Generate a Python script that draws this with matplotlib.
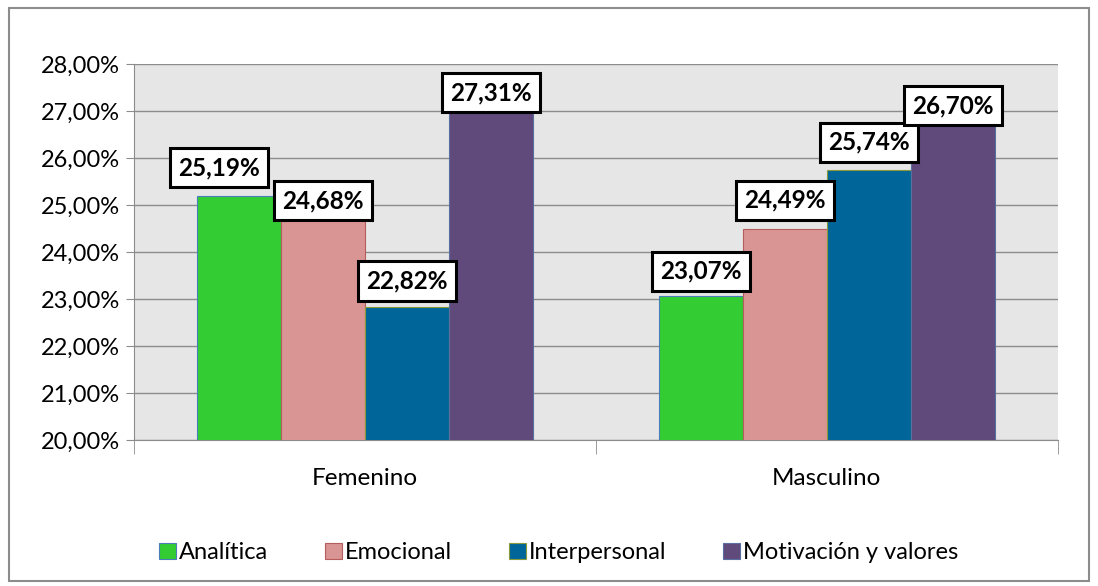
import numpy as np
import matplotlib.pyplot as plt
from matplotlib.patches import Rectangle

categories = ["Femenino", "Masculino"]
series = ["Analítica", "Emocional", "Interpersonal", "Motivación y valores"]
values = [
    [25.19, 23.07],
    [24.68, 24.49],
    [22.82, 25.74],
    [27.31, 26.70],
]
colors = ["#33cc33", "#d99594", "#006699", "#604a7b"]
edges = ["#4a7ebb", "#b65c5a", "#8a9a3b", "#5a6fa0"]
yticks = [20, 21, 22, 23, 24, 25, 26, 27, 28]

# gap (points) between bar top and label box, as Excel placed them to dodge each other
label_dx = [[-14, 0], [0, 0], [0, 0], [0, 0]]
label_dy = [[6.5, 3.5], [0, 6.5], [5, 6], [-11.5, 0]]

plt.rcParams['font.family'] = ['Lato', 'DejaVu Sans']

fig = plt.figure(figsize=(10.98, 5.86), dpi=100)
fig.patches.append(Rectangle((0.008, 0.008), 0.984, 0.978, transform=fig.transFigure,
                             fill=False, edgecolor="#8c8c8c", linewidth=1.5))
ax = fig.add_axes([0.122, 0.249, 0.8415, 0.642])
ax.set_facecolor("#e6e6e6")

fs = 17.5
pad = 0.33
x = np.arange(len(categories))
w = 0.182
for i, s in enumerate(series):
    pos = x + (i - 1.5) * w
    ax.bar(pos, values[i], w, bottom=0, color=colors[i], edgecolor=edges[i],
           linewidth=0.8, label=s, zorder=3)
    for j, v in enumerate(values[i]):
        ax.annotate(("%.2f" % v).replace(".", ",") + "%", (pos[j], v),
                    xytext=(label_dx[i][j], label_dy[i][j] + fs * pad),
                    textcoords="offset points",
                    ha="center", va="bottom", fontsize=fs, fontweight="bold",
                    bbox=dict(boxstyle="square,pad=%g" % pad, fc="white", ec="black", lw=2.2),
                    zorder=5)

ax.set_ylim(20, 28)
ax.set_xlim(-0.5, 1.5)
ax.set_yticks(yticks)
ax.set_yticklabels([("%.2f" % t).replace(".", ",") + "%" for t in yticks], fontsize=17)
ax.yaxis.grid(True, color="#8c8c8c", linewidth=1, zorder=0)
ax.set_axisbelow(True)
ax.set_xticks(x)
ax.set_xticklabels(categories, fontsize=17.5)
ax.tick_params(axis="x", length=0, pad=20)
ax.set_xticks([-0.5, 0.5, 1.5], minor=True)
ax.tick_params(axis="x", which="minor", length=10, color="#8c8c8c")
ax.tick_params(axis="y", length=6, color="#8c8c8c", pad=4)
for sp in ["top", "right"]:
    ax.spines[sp].set_visible(False)
for sp in ["left", "bottom"]:
    ax.spines[sp].set_color("#8c8c8c")

ax.legend(loc="center", bbox_to_anchor=(0.46, -0.3), ncol=4, frameon=False,
          fontsize=17, handlelength=0.7, handleheight=0.7, handletextpad=0.15,
          columnspacing=2.4)

fig.savefig("out.png", dpi=100)
